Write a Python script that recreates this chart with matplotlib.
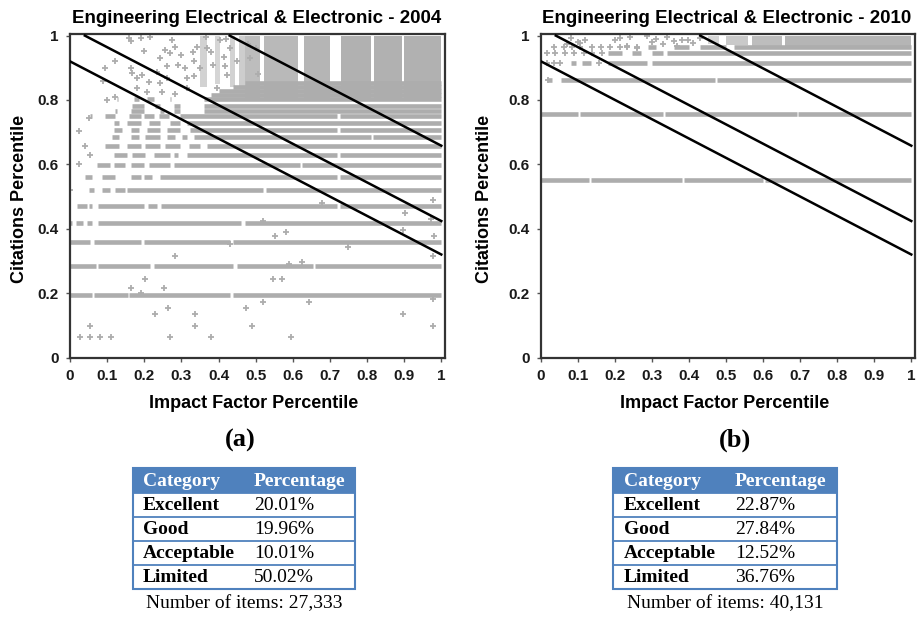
import matplotlib
matplotlib.use("Agg")
import matplotlib.pyplot as plt
from matplotlib.patches import Rectangle

SANS = "Liberation Sans"
SERIF = "Liberation Serif"
GRAY = "#adadad"
BLUE = "#4f81bd"

TITLES = ["Engineering Electrical & Electronic - 2004",
          "Engineering Electrical & Electronic - 2010"]
PANEL_TAGS = ["(a)", "(b)"]

# threshold lines (same in both panels): start / end points
LINE_X0 = [0.0, 0.04, 0.43]
LINE_Y0 = [0.92, 1.0, 1.0]
LINE_X1 = [1.0, 1.0, 1.0]
LINE_Y1 = [0.32, 0.424, 0.658]

# --- 2004: citation-percentile levels, each a list of x runs that are densely filled
A_ROW_Y = [0.193, 0.284, 0.359, 0.417, 0.470, 0.520, 0.560, 0.599, 0.630,
           0.657, 0.684, 0.706, 0.729, 0.749, 0.765, 0.781, 0.802, 0.815,
           0.828, 0.841, 0.853]
A_ROW_SEGS = [
    [(0.0, 0.06), (0.065, 0.155), (0.16, 0.43), (0.44, 1.0)],
    [(0.0, 0.07), (0.075, 0.215), (0.225, 0.44), (0.45, 0.655), (0.66, 1.0)],
    [(0.0, 0.055), (0.065, 0.19), (0.2, 0.43), (0.44, 1.0)],
    [(0.0, 0.005), (0.015, 0.035), (0.045, 0.06), (0.075, 0.46), (0.47, 1.0)],
    [(0.02, 0.045), (0.05, 0.06), (0.075, 0.2), (0.21, 0.235), (0.245, 0.72), (0.726, 1.0)],
    [(0.05, 0.064), (0.086, 0.108), (0.122, 0.149), (0.154, 0.52), (0.527, 1.0)],
    [(0.041, 0.059), (0.086, 0.122), (0.163, 0.19), (0.199, 0.221), (0.243, 0.72), (0.726, 1.0)],
    [(0.073, 0.108), (0.118, 0.149), (0.163, 0.199), (0.212, 0.27), (0.279, 0.62), (0.626, 1.0)],
    [(0.118, 0.153), (0.167, 0.203), (0.225, 0.27), (0.279, 0.29), (0.315, 0.72), (0.726, 1.0)],
    [(0.095, 0.131), (0.154, 0.19), (0.203, 0.243), (0.257, 0.297), (0.32, 0.35), (0.37, 1.0)],
    [(0.113, 0.131), (0.163, 0.185), (0.203, 0.243), (0.261, 0.284), (0.302, 0.315), (0.333, 0.81), (0.816, 1.0)],
    [(0.118, 0.14), (0.163, 0.185), (0.208, 0.243), (0.261, 0.297), (0.324, 0.72), (0.726, 1.0)],
    [(0.118, 0.131), (0.154, 0.19), (0.212, 0.243), (0.27, 0.297), (0.315, 1.0)],
    [(0.055, 0.06), (0.095, 0.122), (0.158, 0.19), (0.199, 0.225), (0.239, 0.266), (0.297, 0.72), (0.726, 1.0)],
    [(0.122, 0.127), (0.163, 0.199), (0.243, 0.252), (0.279, 0.297), (0.36, 1.0)],
    [(0.167, 0.199), (0.23, 0.243), (0.279, 0.297), (0.36, 1.0)],
    [(0.127, 0.13), (0.172, 0.185), (0.208, 0.225), (0.27, 0.273), (0.36, 1.0)],
    [(0.38, 1.0)],
    [(0.40, 1.0)],
    [(0.44, 1.0)],
    [(0.47, 1.0)],
]
# dense vertical clusters at the top of the 2004 panel (with their density)
A_COL_X0 = [0.35, 0.39, 0.43, 0.455, 0.47, 0.523, 0.63, 0.73, 0.818, 0.90]
A_COL_X1 = [0.37, 0.405, 0.445, 0.47, 0.512, 0.615, 0.70, 0.81, 0.893, 1.0]
A_COL_Y0 = [0.84, 0.85, 0.84, 0.84, 0.80, 0.80, 0.80, 0.80, 0.80, 0.80]
A_COL_DENS = [0.55, 0.5, 0.55, 0.6, 0.8, 0.85, 0.9, 0.95, 0.95, 0.95]
# scattered single papers 2004
A_PTS_X = [0.158, 0.163, 0.19, 0.216, 0.199, 0.275, 0.284, 0.27, 0.122, 0.095,
           0.163, 0.167, 0.18, 0.194, 0.212, 0.234, 0.243, 0.243, 0.261, 0.248,
           0.122, 0.18, 0.208, 0.31, 0.315, 0.342, 0.333, 0.351, 0.315, 0.284,
           0.365, 0.369, 0.405, 0.414, 0.432, 0.423, 0.396, 0.45, 0.023, 0.04,
           0.024, 0.055, 0.05, 0.0, 0.1, 0.09,
           0.027, 0.053, 0.053, 0.08, 0.11, 0.163, 0.19, 0.201, 0.23, 0.252,
           0.263, 0.269, 0.282, 0.337, 0.337, 0.38, 0.474, 0.49, 0.519, 0.548,
           0.572, 0.551, 0.583, 0.596, 0.625, 0.643, 0.749, 0.896, 0.902, 0.896,
           0.978, 0.978, 0.978, 0.98, 0.978, 0.972, 0.43, 0.52, 0.59, 0.68,
           0.38, 0.385, 0.42, 0.418, 0.48, 0.485, 0.5, 0.505, 0.33, 0.335,
           0.29, 0.3, 0.255, 0.262]
A_PTS_Y = [0.992, 0.982, 0.992, 0.997, 0.951, 0.987, 0.966, 0.946, 0.921, 0.898,
           0.898, 0.883, 0.867, 0.878, 0.857, 0.888, 0.93, 0.852, 0.867, 0.826,
           0.81, 0.836, 0.826, 0.898, 0.867, 0.966, 0.92, 0.898, 0.836, 0.82,
           0.997, 0.961, 0.987, 0.935, 0.961, 0.878, 0.836, 0.92, 0.705, 0.657,
           0.6, 0.63, 0.745, 0.52, 0.8, 0.86,
           0.063, 0.063, 0.098, 0.063, 0.063, 0.217, 0.199, 0.243, 0.134, 0.217,
           0.153, 0.063, 0.314, 0.134, 0.098, 0.063, 0.153, 0.098, 0.171, 0.243,
           0.243, 0.379, 0.389, 0.063, 0.298, 0.171, 0.342, 0.134, 0.449, 0.395,
           0.098, 0.183, 0.316, 0.379, 0.49, 0.43, 0.352, 0.425, 0.29, 0.48,
           0.95, 0.91, 0.99, 0.905, 0.975, 0.93, 0.96, 0.88, 0.95, 0.875,
           0.91, 0.94, 0.955, 0.905]

# --- 2010
B_ROW_Y = [0.550, 0.755, 0.862, 0.914, 0.945, 0.966]
B_ROW_SEGS = [
    [(0.0, 0.13), (0.135, 0.38), (0.385, 0.60), (0.605, 1.0)],
    [(0.0, 0.10), (0.105, 0.33), (0.335, 0.69), (0.695, 1.0)],
    [(0.015, 0.03), (0.055, 0.47), (0.475, 1.0)],
    [(0.08, 0.095), (0.11, 0.135), (0.18, 0.285), (0.30, 1.0)],
    [(0.18, 0.22), (0.245, 0.27), (0.30, 0.33), (0.34, 1.0)],
    [(0.29, 0.31), (0.36, 0.40), (0.43, 0.50), (0.52, 1.0)],
]
B_COL_X0 = [0.45, 0.50, 0.57, 0.66]
B_COL_X1 = [0.48, 0.56, 0.65, 1.0]
B_COL_Y0 = [0.975, 0.97, 0.96, 0.958]
B_COL_DENS = [0.5, 0.65, 0.8, 0.9]
B_PTS_X = [0.035, 0.062, 0.084, 0.106, 0.138, 0.163, 0.187, 0.214, 0.232, 0.26,
           0.08, 0.106, 0.2, 0.214, 0.24, 0.232, 0.26, 0.287, 0.30, 0.34,
           0.358, 0.38, 0.397, 0.41, 0.43, 0.367, 0.015, 0.039, 0.064, 0.089,
           0.115, 0.138, 0.165, 0.015, 0.035, 0.05, 0.157, 0.02, 0.07, 0.1,
           0.12, 0.31, 0.33]
B_PTS_Y = [0.966, 0.966, 0.966, 0.966, 0.966, 0.966, 0.966, 0.966, 0.966, 0.966,
           0.992, 0.977, 0.987, 0.992, 0.997, 0.967, 0.96, 1.0, 0.98, 0.997,
           0.982, 0.987, 0.987, 0.977, 0.992, 0.967, 0.945, 0.945, 0.945, 0.945,
           0.945, 0.945, 0.945, 0.914, 0.914, 0.914, 0.914, 0.862, 0.975, 0.98,
           0.985, 0.99, 0.975]

# tables
CATEGORIES = ["Excellent", "Good", "Acceptable", "Limited"]
PCT_A = ["20.01%", "19.96%", "10.01%", "50.02%"]
PCT_B = ["22.87%", "27.84%", "12.52%", "36.76%"]
N_ITEMS = ["27,333", "40,131"]

fig = plt.figure(figsize=(9.18, 6.17), dpi=100)
ov = fig.add_axes([0, 0, 1, 1])
ov.set_xlim(0, 918)
ov.set_ylim(617, 0)
ov.axis("off")

W, H = 918.0, 617.0
axA = fig.add_axes([70 / W, (H - 357.5) / H, 375 / W, 323.5 / H])
axB = fig.add_axes([541 / W, (H - 357.5) / H, 374 / W, 323.5 / H])


def draw_panel(ax, rows_y, rows_segs, cx0, cx1, cy0, cdens, px, py, title, ylab_x):
    for x0, x1, y0, d in zip(cx0, cx1, cy0, cdens):
        ax.bar(x0, 1.0 - y0, width=x1 - x0, bottom=y0, align="edge",
               color=GRAY, alpha=d, lw=0, zorder=1.5)
    for y, segs in zip(rows_y, rows_segs):
        for x0, x1 in segs:
            ax.hlines(y, x0, x1, color=GRAY, lw=3.3, zorder=2)
    ax.plot(px, py, "+", color=GRAY, ms=5, mew=1.3, zorder=2)
    for x0, y0, x1, y1 in zip(LINE_X0, LINE_Y0, LINE_X1, LINE_Y1):
        ax.plot([x0, x1], [y0, y1], color="black", lw=1.8, zorder=3)

    ax.set_xlim(0, 1.01)
    ax.set_ylim(0, 1.005)
    ax.set_xticks([i / 10 for i in range(11)])
    ax.set_xticklabels(["0"] + ["0.%d" % i for i in range(1, 10)] + ["1"])
    ax.set_yticks([0, 0.2, 0.4, 0.6, 0.8, 1.0])
    ax.set_yticklabels(["0", "0.2", "0.4", "0.6", "0.8", "1"])
    ax.tick_params(direction="out", length=3, width=1, color="#555555",
                   labelsize=11, pad=5)
    for lab in ax.get_xticklabels() + ax.get_yticklabels():
        lab.set_fontfamily(SANS)
        lab.set_fontweight("bold")
        lab.set_color("#1a1a1a")
    for sp in ax.spines.values():
        sp.set_linewidth(1.6)
        sp.set_color("#333333")

    ax.set_xlabel("Impact Factor Percentile", fontfamily=SANS, fontweight="bold",
                  fontsize=13, va="center")
    ax.xaxis.set_label_coords(0.49, -0.141)
    ax.set_ylabel("Citations Percentile", fontfamily=SANS, fontweight="bold",
                  fontsize=13, va="center")
    ax.yaxis.set_label_coords(ylab_x, 0.49)
    ax.text(0.497, 1.049, title, transform=ax.transAxes, ha="center", va="center",
            fontfamily=SANS, fontweight="bold", fontsize=13.5)


draw_panel(axA, A_ROW_Y, A_ROW_SEGS, A_COL_X0, A_COL_X1, A_COL_Y0, A_COL_DENS,
           A_PTS_X, A_PTS_Y, TITLES[0], -0.135)
draw_panel(axB, B_ROW_Y, B_ROW_SEGS, B_COL_X0, B_COL_X1, B_COL_Y0, B_COL_DENS,
           B_PTS_X, B_PTS_Y, TITLES[1], -0.152)


def draw_table(left, right, pcts, n_items, tag, tag_x):
    top = 467.5
    bounds = [467.5, 492.5, 516.5, 540.5, 564.5, 588.5]
    ov.add_patch(Rectangle((left, top), right - left, bounds[1] - top,
                           facecolor=BLUE, edgecolor="none"))
    ov.add_patch(Rectangle((left, top), right - left, bounds[-1] - top,
                           facecolor="none", edgecolor=BLUE, lw=1.5))
    for b in bounds[1:-1]:
        ov.plot([left, right], [b, b], color=BLUE, lw=1.3)
    c1 = left + 10.5
    c2 = left + 121.5
    hy = (bounds[0] + bounds[1]) / 2 + 1
    ov.text(c1, hy, "Category", color="white", fontfamily=SERIF, fontweight="bold",
            fontsize=14, va="center")
    ov.text(c2, hy, "Percentage", color="white", fontfamily=SERIF, fontweight="bold",
            fontsize=14, va="center")
    for i, (cat, p) in enumerate(zip(CATEGORIES, pcts)):
        yc = (bounds[i + 1] + bounds[i + 2]) / 2 + 1
        ov.text(c1, yc, cat, fontfamily=SERIF, fontweight="bold", fontsize=14,
                va="center", color="black")
        ov.text(c2, yc, p, fontfamily=SERIF, fontsize=14, va="center", color="black")
    ov.text((left + right) / 2, 604, "Number of items: " + n_items, fontfamily=SERIF,
            fontsize=14, ha="center", va="center", color="black")
    ov.text(tag_x, 440, tag, fontfamily=SERIF, fontweight="bold", fontsize=19,
            ha="center", va="center", color="black")


draw_table(132.5, 355, PCT_A, N_ITEMS[0], PANEL_TAGS[0], 240)
draw_table(613.3, 836.7, PCT_B, N_ITEMS[1], PANEL_TAGS[1], 735)

fig.savefig("out.png", dpi=100)
